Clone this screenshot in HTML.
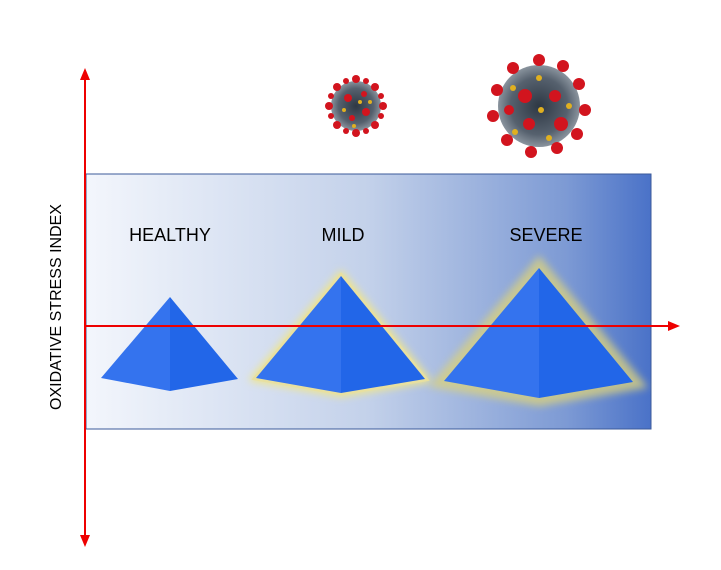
<!DOCTYPE html>
<html><head><style>body{margin:0;background:#fff}svg{display:block}</style></head><body>
<svg width="721" height="570" viewBox="0 0 721 570" xmlns="http://www.w3.org/2000/svg" font-family="Liberation Sans, sans-serif">
<defs>
<linearGradient id="bg" x1="0" x2="1" y1="0" y2="0">
<stop offset="0" stop-color="#f3f6fc"/>
<stop offset="0.5" stop-color="#c3d1ea"/>
<stop offset="0.85" stop-color="#7d9ad4"/>
<stop offset="1" stop-color="#4a72c8"/>
</linearGradient>
<filter id="glow" x="-30%" y="-30%" width="160%" height="160%"><feGaussianBlur stdDeviation="4"/></filter>
<radialGradient id="vb"><stop offset="0" stop-color="#2e3844"/><stop offset="0.7" stop-color="#56616e"/><stop offset="1" stop-color="#8a949e"/></radialGradient>
</defs>
<rect x="86" y="174" width="565" height="255" fill="url(#bg)" stroke="#3b5a9a" stroke-width="1"/>
<text x="170" y="241" font-size="18" text-anchor="middle">HEALTHY</text>
<text x="343" y="241" font-size="18" text-anchor="middle">MILD</text>
<text x="546" y="241" font-size="18" text-anchor="middle">SEVERE</text>
<polygon points="341,276 256,378 341,393 425,379" fill="none" stroke="#f0e68a" stroke-width="8" filter="url(#glow)"/>
<polygon points="341,276 256,378 341,393 425,379" fill="none" stroke="#e8e0a0" stroke-width="5"/>
<polygon points="539,268 444,381 539,398 633,382" fill="none" stroke="#d8d080" stroke-width="16" filter="url(#glow)" opacity="0.8"/>
<g>
<polygon points="170,297 101,378 170,391" fill="#3473ee"/><polygon points="170,297 170,391 238,379" fill="#2266e8"/>
<polygon points="341,276 256,378 341,393" fill="#3473ee"/><polygon points="341,276 341,393 425,379" fill="#2266e8"/>
<polygon points="539,268 444,381 539,398" fill="#3473ee"/><polygon points="539,268 539,398 633,382" fill="#2266e8"/>
</g>
<line x1="85" y1="76" x2="85" y2="540" stroke="#e00" stroke-width="2"/>
<polygon points="85,68 80,80 90,80" fill="#e00"/><polygon points="85,547 80,535 90,535" fill="#e00"/>
<line x1="86" y1="326" x2="672" y2="326" stroke="#e00" stroke-width="2"/>
<polygon points="680,326 668,321 668,331" fill="#e00"/>
<text transform="translate(61,307) rotate(-90)" font-size="16" text-anchor="middle">OXIDATIVE STRESS INDEX</text>
<g transform="translate(356,106)">
<circle r="25" fill="url(#vb)"/>
<g fill="#d2141e">
<circle cx="0" cy="-27" r="4"/><circle cx="19" cy="-19" r="4"/><circle cx="27" cy="0" r="4"/><circle cx="19" cy="19" r="4"/><circle cx="0" cy="27" r="4"/><circle cx="-19" cy="19" r="4"/><circle cx="-27" cy="0" r="4"/><circle cx="-19" cy="-19" r="4"/>
<circle cx="-10" cy="-25" r="3"/><circle cx="10" cy="-25" r="3"/><circle cx="25" cy="-10" r="3"/><circle cx="25" cy="10" r="3"/><circle cx="10" cy="25" r="3"/><circle cx="-10" cy="25" r="3"/><circle cx="-25" cy="10" r="3"/><circle cx="-25" cy="-10" r="3"/>
<circle cx="-8" cy="-8" r="4"/><circle cx="10" cy="6" r="4"/><circle cx="-4" cy="12" r="3"/><circle cx="8" cy="-12" r="3"/>
</g>
<g fill="#e0b020"><circle cx="-12" cy="4" r="2"/><circle cx="4" cy="-4" r="2"/><circle cx="14" cy="-4" r="2"/><circle cx="-2" cy="20" r="2"/></g>
</g>
<g transform="translate(539,106)">
<circle r="41" fill="url(#vb)"/>
<g fill="#d2141e">
<circle cx="0" cy="-46" r="6"/><circle cx="24" cy="-40" r="6"/><circle cx="40" cy="-22" r="6"/><circle cx="46" cy="4" r="6"/><circle cx="38" cy="28" r="6"/><circle cx="18" cy="42" r="6"/><circle cx="-8" cy="46" r="6"/><circle cx="-32" cy="34" r="6"/><circle cx="-46" cy="10" r="6"/><circle cx="-42" cy="-16" r="6"/><circle cx="-26" cy="-38" r="6"/>
<circle cx="-14" cy="-10" r="7"/><circle cx="16" cy="-10" r="6"/><circle cx="-10" cy="18" r="6"/><circle cx="22" cy="18" r="7"/><circle cx="-30" cy="4" r="5"/>
</g>
<g fill="#e0b020"><circle cx="0" cy="-28" r="3"/><circle cx="2" cy="4" r="3"/><circle cx="-26" cy="-18" r="3"/><circle cx="30" cy="0" r="3"/><circle cx="10" cy="32" r="3"/><circle cx="-24" cy="26" r="3"/></g>
</g>
</svg>
</body></html>
